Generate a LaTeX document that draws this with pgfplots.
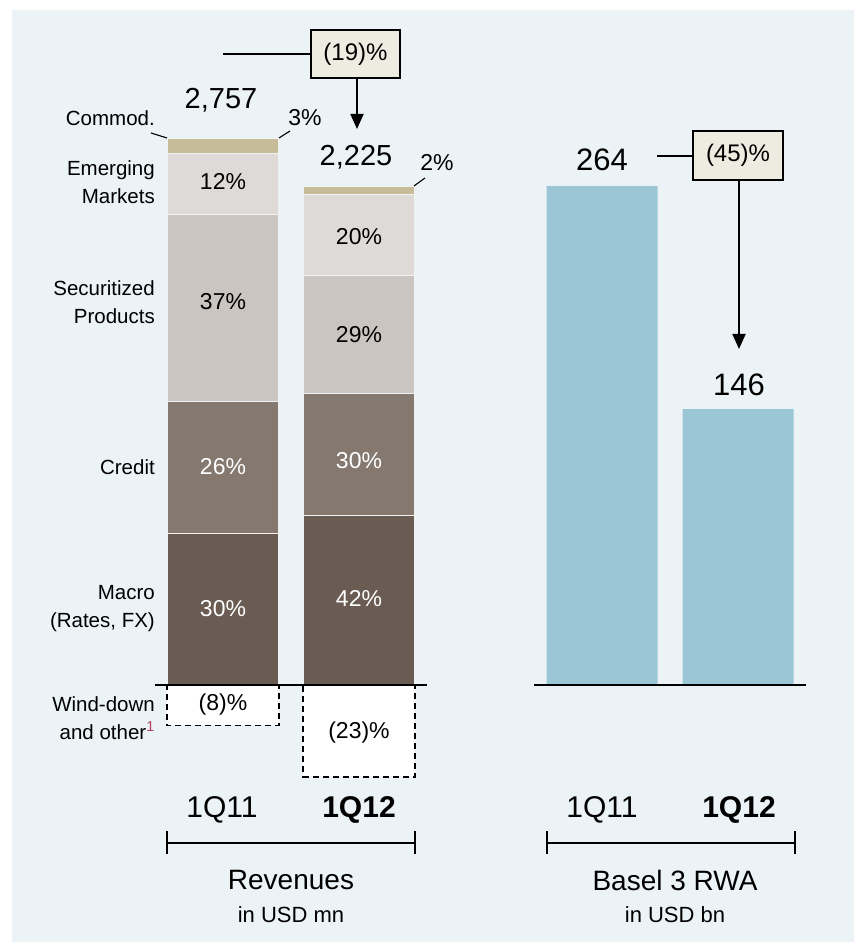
\documentclass[border=0pt]{standalone}
\usepackage{pgfplots}
\pgfplotsset{compat=1.18}
\usepackage{fontspec}
\setmainfont{Liberation Sans}
\usetikzlibrary{arrows.meta}
\definecolor{bgc}{RGB}{235,243,246}
\definecolor{commod}{RGB}{198,189,152}
\definecolor{emk}{RGB}{222,218,215}
\definecolor{secp}{RGB}{203,197,193}
\definecolor{cred}{RGB}{133,120,111}
\definecolor{macro}{RGB}{106,92,83}
\definecolor{rwa}{RGB}{155,198,214}
\definecolor{boxbg}{RGB}{238,235,224}
\definecolor{sep}{RGB}{242,242,242}
\definecolor{fnred}{RGB}{176,64,96}
\newcommand\fs[1]{\fontsize{#1}{1.4\dimexpr#1pt\relax}\selectfont}
\begin{document}
\begin{tikzpicture}
\fill[white] (0,0) rectangle (854pt,942pt);
\fill[bgc] (12pt,0pt) rectangle (854pt,932pt);
% ---------- Revenues (stacked, positive) ----------
\begin{axis}[at={(223pt,257pt)}, anchor=origin, scale only axis,
  width=272pt, height=715.65pt, xmin=-0.5, xmax=1.5, ymin=-600, ymax=3300,
  hide axis, clip=false, ybar stacked, bar width=111pt,
  every axis plot/.append style={draw=sep, line width=1.1pt}]
\addplot[fill=macro, draw=sep] coordinates {(0,827.1) (1,925.0)};
\addplot[fill=cred, draw=sep] coordinates {(0,716.8) (1,662.0)};
\addplot[fill=secp, draw=sep] coordinates {(0,1020.1) (1,645.25)};
\addplot[fill=emk, draw=sep] coordinates {(0,330.8) (1,440.0)};
\addplot[fill=commod, draw=sep] coordinates {(0,82.7) (1,44.5)};
\end{axis}
% ---------- Revenues (wind-down, negative) ----------
\begin{axis}[at={(223pt,257pt)}, anchor=origin, scale only axis,
  width=272pt, height=715.65pt, xmin=-0.5, xmax=1.5, ymin=-600, ymax=3300,
  hide axis, clip=false, ybar, bar width=112pt, bar shift=0pt]
\addplot[fill=white, draw=black, line width=1.6pt, dash pattern=on 6pt off 4pt]
  coordinates {(0,-220.6) (1,-500.0)};
\draw[line width=1.5pt] (axis cs:-0.5,0) -- (axis cs:1.5,0);
\end{axis}
% ---------- Basel 3 RWA ----------
\begin{axis}[at={(602pt,257pt)}, anchor=origin, scale only axis,
  width=272pt, height=718.2pt, xmin=-0.5, xmax=1.5, ymin=-60, ymax=320,
  hide axis, clip=false, ybar, bar width=111pt, bar shift=0pt]
\addplot[fill=rwa, draw=none] coordinates {(0,264) (1,146)};
\draw[line width=1.5pt] (axis cs:-0.5,0) -- (axis cs:1.5,0);
\end{axis}
% ---------- segment labels ----------
\node[font=\fs{23}] at (223pt,760pt) {12\%};
\node[font=\fs{23}] at (223pt,640pt) {37\%};
\node[font=\fs{23}, text=white] at (223pt,475pt) {26\%};
\node[font=\fs{23}, text=white] at (223pt,333pt) {30\%};
\node[font=\fs{23}] at (359pt,705pt) {20\%};
\node[font=\fs{23}] at (359pt,607pt) {29\%};
\node[font=\fs{23}, text=white] at (359pt,481pt) {30\%};
\node[font=\fs{23}, text=white] at (359pt,343pt) {42\%};
\node[font=\fs{23}] at (223pt,237pt) {(8)\%};
\node[font=\fs{23}] at (359pt,209pt) {(23)\%};
% ---------- row labels ----------
\begin{scope}[every node/.style={anchor=east, align=right, font=\fontsize{20.5}{28}\selectfont, inner sep=0pt}]
\node at (155pt,824pt) {Commod.};
\node at (155pt,760pt) {Emerging\\Markets};
\node at (155pt,640pt) {Securitized\\Products};
\node at (155pt,475pt) {Credit};
\node at (155pt,333pt) {Macro\\(Rates, FX)};
\node at (155pt,224pt) {Wind-down\\and other\textsuperscript{\color{fnred}1}};
\end{scope}
% ---------- totals ----------
\node[font=\fs{29}] at (221pt,842pt) {2,757};
\node[font=\fs{29}] at (356pt,785pt) {2,225};
\node[font=\fs{23}] at (305pt,824pt) {3\%};
\node[font=\fs{23}] at (437pt,779pt) {2\%};
\node[font=\fs{31}] at (602pt,782pt) {264};
\node[font=\fs{31}] at (739pt,557pt) {146};
% leader lines
\draw[line width=1.1pt] (151pt,809pt) -- (167pt,804pt);
\draw[line width=1.1pt] (279pt,804pt) -- (290pt,811pt);
\draw[line width=1.1pt] (414pt,756pt) -- (425pt,764pt);
% ---------- change boxes ----------
\draw[line width=1.4pt] (223pt,888pt) -- (311pt,888pt);
\draw[line width=1.8pt, -{Triangle[length=15pt,width=13pt]}] (357pt,864pt) -- (357pt,813pt);
\node[draw, line width=1.5pt, fill=boxbg, minimum width=89pt, minimum height=48pt, inner sep=0pt, font=\fs{24}] at (355.5pt,888pt) {(19)\%};
\draw[line width=1.4pt] (657pt,786pt) -- (693pt,786pt);
\draw[line width=1.8pt, -{Triangle[length=15pt,width=13pt]}] (739pt,762pt) -- (739pt,593pt);
\node[draw, line width=1.5pt, fill=boxbg, minimum width=90pt, minimum height=49pt, inner sep=0pt, font=\fs{24}] at (738pt,786.5pt) {(45)\%};
% ---------- category labels ----------
\node[font=\fs{30}] at (222pt,132pt) {1Q11};
\node[font=\fs{30}] at (359pt,132pt) {\textbf{1Q12}};
\node[font=\fs{30}] at (602pt,132pt) {1Q11};
\node[font=\fs{30}] at (739pt,132pt) {\textbf{1Q12}};
% brackets
\draw[line width=1.5pt] (167pt,99pt) -- (415pt,99pt);
\draw[line width=1.5pt] (167pt,87.5pt) -- (167pt,110.5pt);
\draw[line width=1.5pt] (415pt,87.5pt) -- (415pt,110.5pt);
\draw[line width=1.5pt] (547pt,99pt) -- (795pt,99pt);
\draw[line width=1.5pt] (547pt,87.5pt) -- (547pt,110.5pt);
\draw[line width=1.5pt] (795pt,87.5pt) -- (795pt,110.5pt);
\node[font=\fs{28}] at (291pt,62pt) {Revenues};
\node[font=\fs{22}] at (291pt,27pt) {in USD mn};
\node[font=\fs{28}] at (675pt,62pt) {Basel 3 RWA};
\node[font=\fs{22}] at (675pt,27pt) {in USD bn};
\pgfresetboundingbox
\path[use as bounding box] (0,0) rectangle (854pt,942pt);
\end{tikzpicture}
\end{document}
